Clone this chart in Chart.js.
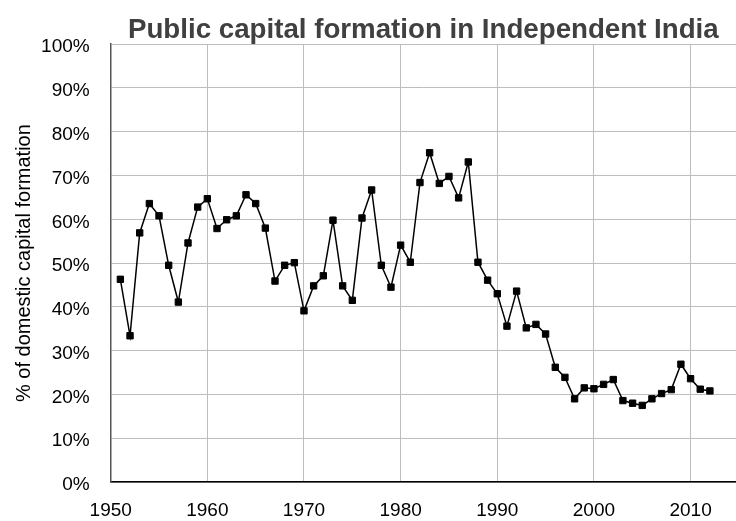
<!DOCTYPE html>
<html lang="en">
<head>
    <meta charset="UTF-8">
    <title>Public capital formation in Independent India</title>
    <script src="https://cdn.jsdelivr.net/npm/chart.js"></script>
    <style>
        html, body {
            margin: 0;
            padding: 0;
            background: #fff;
        }
        canvas {
            display: block;
        }
    </style>
</head>
<body>
    <canvas id="capitalChart" width="736" height="521"></canvas>

    <script>
        // years on the x axis
        const years = [
            1951, 1952, 1953, 1954, 1955, 1956, 1957, 1958, 1959, 1960,
            1961, 1962, 1963, 1964, 1965, 1966, 1967, 1968, 1969, 1970,
            1971, 1972, 1973, 1974, 1975, 1976, 1977, 1978, 1979, 1980,
            1981, 1982, 1983, 1984, 1985, 1986, 1987, 1988, 1989, 1990,
            1991, 1992, 1993, 1994, 1995, 1996, 1997, 1998, 1999, 2000,
            2001, 2002, 2003, 2004, 2005, 2006, 2007, 2008, 2009, 2010,
            2011, 2012
        ];

        // public share of domestic capital formation (%)
        const publicShare = [
            46.3, 33.4, 56.9, 63.6, 60.8, 49.5, 41.1, 54.6, 62.8, 64.7,
            57.9, 59.9, 60.8, 65.6, 63.6, 58.0, 45.9, 49.5, 50.1, 39.1,
            44.8, 47.1, 59.8, 44.8, 41.5, 60.3, 66.7, 49.5, 44.5, 54.1,
            50.2, 68.4, 75.2, 68.2, 69.8, 64.9, 73.1, 50.2, 46.1, 43.0,
            35.6, 43.6, 35.2, 36.0, 33.8, 26.2, 23.9, 19.0, 21.5, 21.3,
            22.3, 23.4, 18.6, 18.0, 17.5, 19.0, 20.2, 21.1, 26.9, 23.6,
            21.2, 20.8
        ];

        const xTicks = [1950, 1960, 1970, 1980, 1990, 2000, 2010];

        const fontFamily = '"Liberation Sans", Arial, Helvetica, sans-serif';

        const points = years.map((y, i) => ({ x: y, y: publicShare[i] }));

        const ctx = document.getElementById('capitalChart').getContext('2d');
        new Chart(ctx, {
            type: 'scatter',
            data: {
                datasets: [{
                    data: points,
                    showLine: true,
                    borderColor: '#000',
                    backgroundColor: '#000',
                    borderWidth: 1.5,
                    pointStyle: 'rect',
                    pointRadius: 4.5,
                    pointBorderWidth: 1,
                    pointBackgroundColor: '#000',
                    pointBorderColor: '#000'
                }]
            },
            options: {
                responsive: false,
                animation: false,
                devicePixelRatio: 1,
                layout: { padding: 0, autoPadding: false },
                plugins: {
                    legend: { display: false },
                    tooltip: { enabled: false },
                    title: {
                        display: true,
                        fullSize: false,
                        text: 'Public capital formation in Independent India',
                        color: '#404040',
                        font: { family: fontFamily, size: 27.7, weight: 'bold', lineHeight: 1 },
                        padding: { top: 16.5, bottom: 0 }
                    }
                },
                scales: {
                    x: {
                        type: 'linear',
                        min: 1950,
                        max: 2014.7,
                        afterBuildTicks: scale => {
                            scale.ticks = xTicks.map(v => ({ value: v }));
                        },
                        afterFit: scale => { scale.height = 39; },
                        grid: {
                            color: '#bdbdbd',
                            lineWidth: 1,
                            drawTicks: false
                        },
                        border: { color: '#000', width: 1.5 },
                        ticks: {
                            color: '#000',
                            padding: 17,
                            maxRotation: 0,
                            autoSkip: false,
                            font: { family: fontFamily, size: 19 },
                            callback: v => String(v)
                        }
                    },
                    y: {
                        min: 0,
                        max: 100,
                        afterFit: scale => { scale.width = 110.7; },
                        grid: {
                            color: '#bdbdbd',
                            lineWidth: 1,
                            drawTicks: false
                        },
                        border: { color: '#555', width: 1.5 },
                        ticks: {
                            stepSize: 10,
                            color: '#000',
                            padding: 21,
                            labelOffset: 3,
                            autoSkip: false,
                            font: { family: fontFamily, size: 19 },
                            callback: v => v + '%'
                        },
                        title: {
                            display: true,
                            text: '% of domestic capital formation',
                            color: '#000',
                            font: { family: fontFamily, size: 20 },
                            padding: { top: 12, bottom: 0 }
                        }
                    }
                }
            }
        });
    </script>
</body>
</html>
